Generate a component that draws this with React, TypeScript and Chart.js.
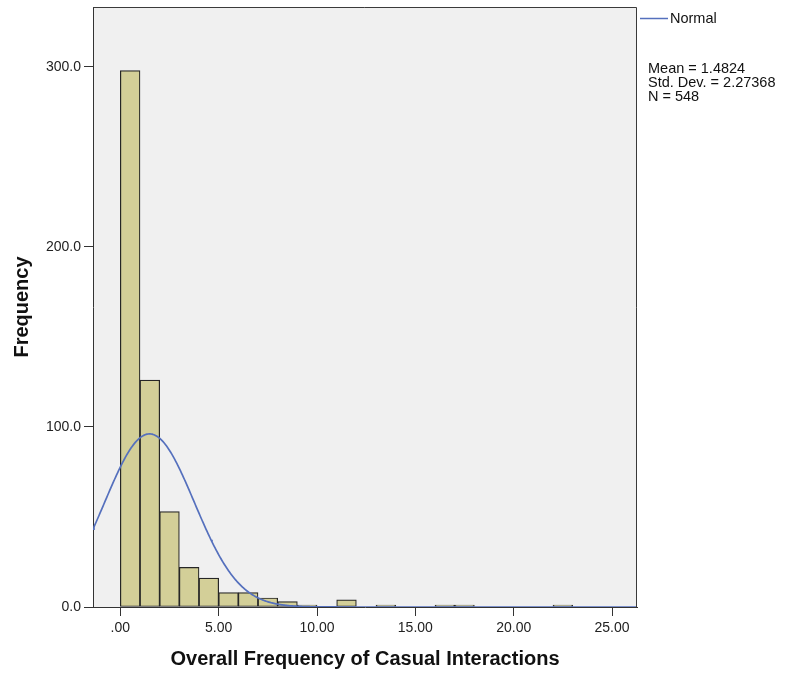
import { useEffect, useRef } from "react";
import { Chart, registerables } from "chart.js";

Chart.register(...registerables);

// Histogram bins (left edge of each non-empty bin) and their counts
const binStarts = [0, 1, 2, 3, 4, 5, 6, 7, 8, 9, 11, 13, 16, 17, 22];
const binCounts = [298, 126, 53, 22, 16, 8, 8, 5, 3, 1, 4, 1, 1, 1, 1];
const binWidth = 1;

// Summary statistics for the fitted normal curve
const statMean = 1.4824;
const statSD = 2.27368;
const statN = 548;
const statLines = ["Mean = 1.4824", "Std. Dev. = 2.27368", "N = 548"];
const legendLabel = "Normal";

// Axes
const xTickValues = [0, 5, 10, 15, 20, 25];
const xTickLabels = [".00", "5.00", "10.00", "15.00", "20.00", "25.00"];
const yTickValues = [0, 100, 200, 300];
const yTickLabels = ["0.0", "100.0", "200.0", "300.0"];
const xTitle = "Overall Frequency of Casual Interactions";
const yTitle = "Frequency";
const xRange = [-1.39, 26.27];
const yRange = [0, 333.3];

const FONT = "'Liberation Sans', Arial, sans-serif";
const CURVE_COLOR = "#5570bd";

function normalCurve() {
  const pts: { x: number; y: number }[] = [];
  const scale = (statN * binWidth) / (statSD * Math.sqrt(2 * Math.PI));
  for (let x = xRange[0]; x <= xRange[1] + 1e-9; x += 0.05) {
    const z = (x - statMean) / statSD;
    pts.push({ x, y: scale * Math.exp(-0.5 * z * z) });
  }
  return pts;
}

const plotFrame = {
  id: "plotFrame",
  beforeDraw(chart: any) {
    const { ctx, chartArea: a } = chart;
    ctx.save();
    ctx.fillStyle = "#f0f0f0";
    ctx.fillRect(a.left, a.top, a.right - a.left, a.bottom - a.top);
    ctx.restore();
  },
  afterDatasetsDraw(chart: any) {
    const { ctx, chartArea: a } = chart;
    ctx.save();
    ctx.strokeStyle = "#3a3a3a";
    ctx.lineWidth = 1;
    ctx.beginPath();
    ctx.moveTo(a.left, a.top + 0.5);
    ctx.lineTo(a.right - 0.5, a.top + 0.5);
    ctx.lineTo(a.right - 0.5, a.bottom);
    ctx.stroke();
    ctx.restore();
  },
};

const sideNotes = {
  id: "sideNotes",
  afterDraw(chart: any) {
    const { ctx, chartArea: a } = chart;
    ctx.save();
    ctx.strokeStyle = CURVE_COLOR;
    ctx.lineWidth = 1.5;
    ctx.beginPath();
    ctx.moveTo(a.right + 3, 18.5);
    ctx.lineTo(a.right + 31, 18.5);
    ctx.stroke();
    ctx.fillStyle = "#111";
    ctx.font = `14.5px ${FONT}`;
    ctx.textBaseline = "middle";
    ctx.textAlign = "left";
    ctx.fillText(legendLabel, a.right + 33, 19);
    statLines.forEach((line, i) => {
      ctx.fillText(line, a.right + 11, 68.5 + i * 14);
    });
    ctx.restore();
  },
};

export default function App() {
  const ref = useRef<HTMLCanvasElement>(null);

  useEffect(() => {
    if (!ref.current) return;
    const chart = new Chart(ref.current, {
      type: "bar",
      data: {
        datasets: [
          {
            type: "line",
            label: legendLabel,
            data: normalCurve(),
            borderColor: CURVE_COLOR,
            borderWidth: 1.7,
            pointRadius: 0,
            tension: 0,
            fill: false,
            order: 0,
          } as any,
          {
            type: "bar",
            label: "Frequency",
            data: binStarts.map((s, i) => ({ x: s + binWidth / 2, y: binCounts[i] })),
            backgroundColor: "#d3cf98",
            borderColor: "#262626",
            borderWidth: 1.2,
            borderSkipped: false,
            barPercentage: 1,
            categoryPercentage: 1,
            order: 1,
          } as any,
        ],
      },
      options: {
        animation: false,
        responsive: true,
        maintainAspectRatio: false,
        layout: { padding: { left: 0, top: 7, right: 148, bottom: 0 } },
        plugins: {
          legend: { display: false },
          tooltip: { enabled: false },
        },
        scales: {
          x: {
            type: "linear",
            min: xRange[0],
            max: xRange[1],
            offset: false,
            afterFit(scale: any) {
              scale.height = 67;
              scale.paddingLeft = 0;
              scale.paddingRight = 0;
            },
            afterBuildTicks(scale: any) {
              scale.ticks = xTickValues.map((v) => ({ value: v }));
            },
            grid: {
              offset: false,
              drawOnChartArea: false,
              drawTicks: true,
              tickLength: 9,
              tickColor: "#333",
              tickWidth: 1,
            },
            border: { display: true, color: "#333", width: 1 },
            ticks: {
              autoSkip: false,
              maxRotation: 0,
              padding: 4,
              color: "#222",
              font: { family: FONT, size: 14 },
              callback: (v: any) => xTickLabels[xTickValues.indexOf(Number(v))] ?? "",
            },
            title: {
              display: true,
              text: xTitle,
              color: "#111",
              font: { family: FONT, size: 20, weight: "bold" },
              padding: { top: 0, bottom: 3 },
            },
          },
          y: {
            type: "linear",
            min: yRange[0],
            max: yRange[1],
            afterFit(scale: any) {
              scale.width = 93;
              scale.paddingTop = 0;
              scale.paddingBottom = 0;
            },
            afterBuildTicks(scale: any) {
              scale.ticks = yTickValues.map((v) => ({ value: v }));
            },
            grid: {
              drawOnChartArea: false,
              drawTicks: true,
              tickLength: 9,
              tickColor: "#333",
              tickWidth: 1,
            },
            border: { display: true, color: "#333", width: 1 },
            ticks: {
              autoSkip: false,
              padding: 3,
              color: "#222",
              font: { family: FONT, size: 14 },
              callback: (v: any) => yTickLabels[yTickValues.indexOf(Number(v))] ?? "",
            },
            title: {
              display: true,
              text: yTitle,
              color: "#111",
              font: { family: FONT, size: 20, weight: "bold" },
              padding: { top: 10, bottom: 0 },
            },
          },
        },
      },
      plugins: [plotFrame, sideNotes],
    });
    return () => chart.destroy();
  }, []);

  return (
    <div style={{ position: "fixed", left: 0, top: 0, width: 785, height: 674, background: "#fff" }}>
      <canvas ref={ref} />
    </div>
  );
}
